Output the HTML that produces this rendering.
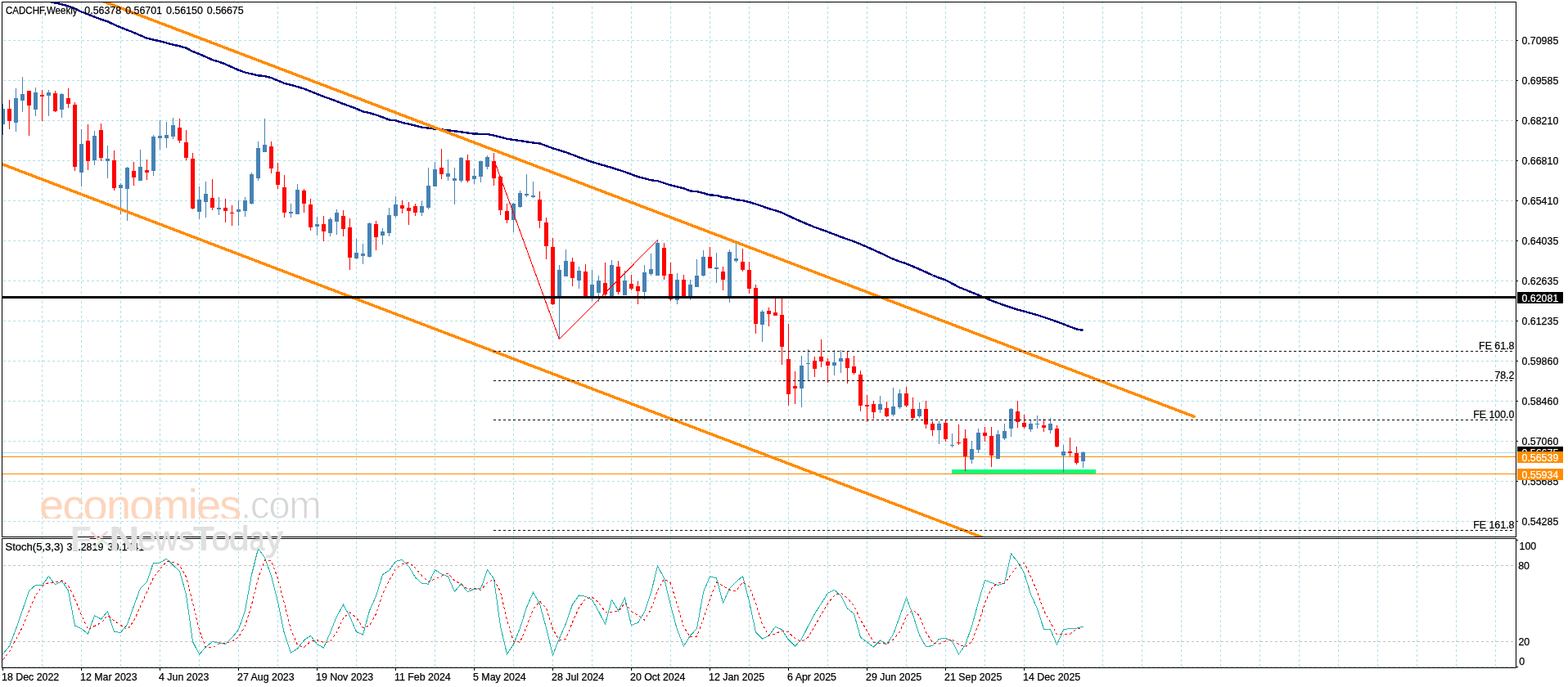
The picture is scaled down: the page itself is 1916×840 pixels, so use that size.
<!DOCTYPE html>
<html><head><meta charset="utf-8"><title>CADCHF Weekly</title>
<style>html,body{margin:0;padding:0;background:#fff;overflow:hidden}svg{display:block}text{white-space:pre}</style>
</head><body>
<svg width="1916" height="840" viewBox="0 0 1916 840" font-family="Liberation Sans, Arial, sans-serif" font-size="12">
<rect width="1916" height="840" fill="#fff"/>
<defs><clipPath id="cm"><rect x="3" y="3" width="1849" height="653"/></clipPath><clipPath id="cs"><rect x="3" y="659" width="1849" height="157"/></clipPath><filter id="soft" x="-5%" y="-5%" width="110%" height="110%"><feGaussianBlur stdDeviation="0.45"/></filter></defs>
<path d="M4 49.5H1852 M4 98.5H1852 M4 147.5H1852 M4 196.5H1852 M4 245.5H1852 M4 294.5H1852 M4 343.5H1852 M4 392.5H1852 M4 441.5H1852 M4 490.5H1852 M4 539.5H1852 M4 588.5H1852 M4 637.5H1852 M51.5 2V816 M99.5 2V816 M147.5 2V816 M195.5 2V816 M243.5 2V816 M291.5 2V816 M339.5 2V816 M387.5 2V816 M435.5 2V816 M483.5 2V816 M531.5 2V816 M579.5 2V816 M627.5 2V816 M675.5 2V816 M723.5 2V816 M771.5 2V816 M819.5 2V816 M867.5 2V816 M915.5 2V816 M963.5 2V816 M1011.5 2V816 M1059.5 2V816 M1107.5 2V816 M1155.5 2V816 M1203.5 2V816 M1251.5 2V816 M1299.5 2V816 M1347.5 2V816 M1395.5 2V816 M1443.5 2V816 M1491.5 2V816 M1539.5 2V816 M1587.5 2V816 M1635.5 2V816 M1683.5 2V816 M1731.5 2V816 M1779.5 2V816 M1827.5 2V816 M4 815.5H1852" stroke="#b0e0e6" stroke-width="1" stroke-dasharray="3 3" fill="none" shape-rendering="crispEdges"/>
<path d="M4 691.5H1852M4 784.5H1852" stroke="#c0c0c0" stroke-width="1" stroke-dasharray="3 3" fill="none" shape-rendering="crispEdges"/>
<g clip-path="url(#cm)">
<path d="M3 553.5H1852" stroke="#b0e0e6" fill="none" shape-rendering="crispEdges"/>
<path d="M3 558.5H1852M3 579.5H1852" stroke="#ff8c00" fill="none" shape-rendering="crispEdges"/>
<rect x="1163" y="574" width="176" height="5" fill="#00ff7f"/>
<path d="M3 127h1v38h-1z M1 133h5v19h-5z M19 108h1v53h-1z M17 120h5v30h-5z M27 94h1v43h-1z M25 115h5v8h-5z M43 107h1v35h-1z M41 113h5v21h-5z M59 110h1v32h-1z M57 113h5v4h-5z M75 114h1v30h-1z M73 115h5v19h-5z M99 158h1v70h-1z M97 176h5v35h-5z M115 160h1v42h-1z M113 166h5v30h-5z M131 178h1v40h-1z M129 194h5v3h-5z M147 224h1v38h-1z M145 226h5v4h-5z M155 204h1v66h-1z M153 205h5v26h-5z M171 183h1v38h-1z M169 204h5v17h-5z M187 165h1v50h-1z M185 167h5v42h-5z M195 147h1v36h-1z M193 166h5v3h-5z M203 149h1v32h-1z M201 165h5v4h-5z M211 144h1v26h-1z M209 153h5v14h-5z M243 228h1v40h-1z M241 244h5v15h-5z M251 222h1v44h-1z M249 237h5v10h-5z M267 241h1v22h-1z M265 254h5v2h-5z M291 245h1v31h-1z M289 256h5v3h-5z M299 241h1v24h-1z M297 245h5v13h-5z M307 211h1v39h-1z M305 213h5v36h-5z M315 173h1v48h-1z M313 181h5v37h-5z M323 145h1v41h-1z M321 177h5v9h-5z M355 249h1v17h-1z M353 259h5v2h-5z M363 225h1v37h-1z M361 232h5v30h-5z M387 265h1v23h-1z M385 274h5v3h-5z M403 266h1v23h-1z M401 268h5v17h-5z M411 256h1v31h-1z M409 260h5v11h-5z M435 292h1v25h-1z M433 309h5v7h-5z M443 298h1v25h-1z M441 310h5v3h-5z M451 272h1v43h-1z M449 273h5v41h-5z M467 279h1v20h-1z M465 283h5v5h-5z M475 254h1v35h-1z M473 263h5v22h-5z M483 240h1v26h-1z M481 250h5v14h-5z M515 246h1v18h-1z M513 252h5v8h-5z M523 205h1v51h-1z M521 227h5v27h-5z M531 198h1v30h-1z M529 207h5v21h-5z M547 195h1v26h-1z M545 212h5v4h-5z M555 205h1v45h-1z M553 218h5v3h-5z M563 192h1v31h-1z M561 193h5v28h-5z M579 206h1v19h-1z M577 215h5v4h-5z M587 197h1v26h-1z M585 197h5v19h-5z M595 190h1v17h-1z M593 192h5v12h-5z M627 248h1v36h-1z M625 249h5v20h-5z M635 233h1v21h-1z M633 236h5v17h-5z M643 213h1v28h-1z M641 237h5v2h-5z M651 222h1v20h-1z M649 239h5v2h-5z M683 324h1v91h-1z M681 330h5v32h-5z M691 305h1v33h-1z M689 319h5v19h-5z M707 326h1v27h-1z M705 331h5v12h-5z M723 330h1v38h-1z M721 348h5v16h-5z M731 337h1v32h-1z M729 343h5v15h-5z M747 318h1v45h-1z M745 324h5v38h-5z M763 331h1v30h-1z M761 343h5v18h-5z M787 324h1v42h-1z M785 333h5v24h-5z M795 310h1v27h-1z M793 329h5v6h-5z M803 293h1v44h-1z M801 297h5v40h-5z M827 334h1v38h-1z M825 342h5v25h-5z M843 342h1v25h-1z M841 348h5v14h-5z M851 317h1v34h-1z M849 337h5v14h-5z M859 306h1v32h-1z M857 314h5v23h-5z M875 309h1v37h-1z M873 327h5v2h-5z M891 305h1v65h-1z M889 308h5v54h-5z M899 298h1v23h-1z M897 316h5v3h-5z M931 379h1v39h-1z M929 381h5v16h-5z M979 435h1v63h-1z M977 447h5v28h-5z M987 427h1v38h-1z M985 444h5v1h-5z M1019 428h1v31h-1z M1017 443h5v4h-5z M1027 428h1v28h-1z M1025 438h5v4h-5z M1075 484h1v21h-1z M1073 494h5v7h-5z M1091 474h1v35h-1z M1089 497h5v10h-5z M1099 476h1v24h-1z M1097 481h5v17h-5z M1123 492h1v19h-1z M1121 500h5v9h-5z M1147 515h1v28h-1z M1145 518h5v8h-5z M1163 530h1v17h-1z M1161 544h5v1h-5z M1187 539h1v28h-1z M1185 549h5v13h-5z M1195 524h1v30h-1z M1193 529h5v21h-5z M1219 526h1v35h-1z M1217 531h5v30h-5z M1227 518h1v20h-1z M1225 527h5v9h-5z M1235 499h1v35h-1z M1233 500h5v24h-5z M1259 513h1v15h-1z M1257 518h5v7h-5z M1267 508h1v16h-1z M1265 518h5v1h-5z M1283 511h1v19h-1z M1281 518h5v8h-5z M1299 544h1v34h-1z M1297 552h5v5h-5z M1323 552h1v20h-1z M1321 553h5v11h-5z" fill="#4682b4" shape-rendering="crispEdges"/>
<path d="M11 122h1v36h-1z M9 133h5v15h-5z M35 111h1v55h-1z M33 111h5v18h-5z M51 110h1v38h-1z M49 116h5v2h-5z M67 111h1v26h-1z M65 114h5v22h-5z M83 108h1v24h-1z M81 120h5v7h-5z M91 125h1v84h-1z M89 128h5v76h-5z M107 152h1v56h-1z M105 172h5v25h-5z M123 151h1v46h-1z M121 159h5v34h-5z M139 184h1v49h-1z M137 196h5v34h-5z M163 198h1v29h-1z M161 209h5v8h-5z M179 195h1v25h-1z M177 208h5v3h-5z M219 145h1v30h-1z M217 156h5v16h-5z M227 159h1v37h-1z M225 174h5v19h-5z M235 187h1v69h-1z M233 194h5v61h-5z M259 219h1v38h-1z M257 242h5v12h-5z M275 243h1v29h-1z M273 254h5v4h-5z M283 251h1v25h-1z M281 260h5v1h-5z M331 173h1v39h-1z M329 179h5v27h-5z M339 199h1v32h-1z M337 210h5v16h-5z M347 214h1v52h-1z M345 229h5v31h-5z M371 231h1v29h-1z M369 233h5v16h-5z M379 243h1v39h-1z M377 250h5v28h-5z M395 264h1v31h-1z M393 274h5v9h-5z M419 257h1v32h-1z M417 264h5v16h-5z M427 267h1v63h-1z M425 278h5v37h-5z M459 270h1v36h-1z M457 274h5v16h-5z M491 245h1v16h-1z M489 251h5v4h-5z M499 247h1v28h-1z M497 254h5v4h-5z M507 249h1v15h-1z M505 252h5v8h-5z M539 182h1v37h-1z M537 205h5v8h-5z M571 189h1v34h-1z M569 196h5v25h-5z M603 187h1v40h-1z M601 197h5v21h-5z M611 216h1v47h-1z M609 216h5v41h-5z M619 249h1v24h-1z M617 258h5v11h-5z M659 234h1v45h-1z M657 244h5v26h-5z M667 266h1v51h-1z M665 272h5v29h-5z M675 291h1v82h-1z M673 302h5v70h-5z M699 315h1v35h-1z M697 320h5v20h-5z M715 323h1v39h-1z M713 332h5v30h-5z M739 321h1v41h-1z M737 346h5v14h-5z M755 319h1v41h-1z M753 326h5v31h-5z M771 336h1v19h-1z M769 347h5v6h-5z M779 344h1v28h-1z M777 350h5v6h-5z M811 297h1v45h-1z M809 303h5v34h-5z M819 321h1v47h-1z M817 335h5v31h-5z M835 336h1v27h-1z M833 342h5v20h-5z M867 302h1v26h-1z M865 314h5v14h-5z M883 326h1v29h-1z M881 332h5v10h-5z M907 304h1v28h-1z M905 320h5v10h-5z M915 320h1v39h-1z M913 330h5v23h-5z M923 348h1v60h-1z M921 352h5v44h-5z M939 376h1v23h-1z M937 380h5v4h-5z M947 365h1v21h-1z M945 382h5v4h-5z M955 365h1v81h-1z M953 385h5v39h-5z M963 396h1v100h-1z M961 439h5v43h-5z M971 454h1v40h-1z M969 472h5v3h-5z M995 436h1v25h-1z M993 441h5v10h-5z M1003 415h1v34h-1z M1001 436h5v6h-5z M1011 438h1v30h-1z M1009 442h5v5h-5z M1035 430h1v39h-1z M1033 438h5v12h-5z M1043 435h1v23h-1z M1041 448h5v8h-5z M1051 453h1v50h-1z M1049 458h5v38h-5z M1059 483h1v33h-1z M1057 495h5v2h-5z M1067 490h1v22h-1z M1065 494h5v10h-5z M1083 491h1v19h-1z M1081 499h5v10h-5z M1107 473h1v25h-1z M1105 481h5v15h-5z M1115 486h1v27h-1z M1113 500h5v11h-5z M1131 490h1v34h-1z M1129 500h5v19h-5z M1139 515h1v18h-1z M1137 518h5v8h-5z M1155 513h1v27h-1z M1153 517h5v20h-5z M1171 519h1v25h-1z M1169 541h5v1h-5z M1179 525h1v51h-1z M1177 536h5v22h-5z M1203 522h1v18h-1z M1201 529h5v4h-5z M1211 522h1v49h-1z M1209 533h5v24h-5z M1243 490h1v33h-1z M1241 503h5v13h-5z M1251 507h1v17h-1z M1249 517h5v5h-5z M1275 512h1v16h-1z M1273 520h5v3h-5z M1291 520h1v27h-1z M1289 524h5v22h-5z M1307 535h1v23h-1z M1305 552h5v2h-5z M1315 546h1v22h-1z M1313 554h5v12h-5z" fill="#ff0000" shape-rendering="crispEdges"/>
<polyline points="40.0,-2.8 67.5,3.6 75.5,5.3 83.5,7.5 91.5,10.5 99.5,14.4 107.5,17.6 115.5,20.7 123.5,23.7 131.5,26.3 139.5,30.1 147.5,33.6 155.5,36.6 163.5,39.8 171.5,43.3 179.5,46.7 187.5,48.6 195.5,50.4 203.5,52.5 211.5,54.6 219.5,56.4 227.5,58.7 235.5,63.0 243.5,66.1 251.5,69.5 259.5,73.2 267.5,75.5 275.5,78.5 283.5,82.1 291.5,85.7 299.5,88.5 307.5,90.5 315.5,92.3 323.5,93.0 331.5,95.2 339.5,98.5 347.5,101.8 355.5,103.8 363.5,106.1 371.5,108.5 379.5,111.7 387.5,114.9 395.5,118.1 403.5,120.9 411.5,123.9 419.5,127.0 427.5,129.9 435.5,132.9 443.5,136.4 451.5,138.1 459.5,140.5 467.5,143.3 475.5,146.5 483.5,147.4 491.5,149.8 499.5,151.7 507.5,153.7 515.5,155.7 523.5,156.6 531.5,157.6 539.5,158.5 547.5,159.3 555.5,160.3 563.5,161.3 571.5,162.5 579.5,163.6 587.5,163.8 595.5,164.1 603.5,165.5 611.5,167.6 619.5,169.8 627.5,170.9 635.5,172.0 643.5,173.3 651.5,174.6 659.5,175.4 667.5,178.3 675.5,181.3 683.5,183.7 691.5,186.2 699.5,189.2 707.5,192.3 715.5,195.2 723.5,198.0 731.5,200.4 739.5,202.7 747.5,205.0 755.5,207.6 763.5,210.1 771.5,213.1 779.5,216.1 787.5,218.2 795.5,220.3 803.5,221.2 811.5,223.9 819.5,226.4 827.5,228.4 835.5,230.3 843.5,233.5 851.5,234.1 859.5,236.2 867.5,238.4 875.5,238.9 883.5,241.1 891.5,241.9 899.5,244.3 907.5,245.1 915.5,247.1 923.5,249.5 931.5,252.2 939.5,255.0 947.5,257.4 955.5,259.9 963.5,263.9 971.5,267.6 979.5,271.1 987.5,274.5 995.5,277.8 1003.5,280.6 1011.5,283.5 1019.5,286.6 1027.5,289.7 1035.5,292.5 1043.5,295.2 1051.5,298.6 1059.5,302.0 1067.5,305.6 1075.5,309.2 1083.5,313.0 1091.5,316.8 1099.5,319.8 1107.5,322.4 1115.5,325.8 1123.5,329.2 1131.5,332.8 1139.5,336.5 1147.5,339.6 1155.5,342.5 1163.5,346.7 1171.5,351.0 1179.5,354.2 1187.5,357.5 1195.5,360.7 1203.5,364.1 1211.5,367.5 1219.5,370.5 1227.5,373.3 1235.5,376.0 1243.5,378.6 1251.5,380.6 1259.5,382.9 1267.5,385.2 1275.5,387.8 1283.5,390.5 1291.5,393.3 1299.5,396.3 1307.5,399.5 1315.5,402.4 1323.5,403.9" fill="none" stroke="#000080" stroke-width="2.4" shape-rendering="crispEdges"/>
<line x1="100" y1="-8.33" x2="1460.5" y2="509.88" stroke="#ff8c00" stroke-width="3.5" shape-rendering="crispEdges"/>
<line x1="0" y1="199.70" x2="1220" y2="664.52" stroke="#ff8c00" stroke-width="3.5" shape-rendering="crispEdges"/>
<polyline points="604.5,197.5 683.5,414.8 803.5,293.5" fill="none" stroke="#ff0000" stroke-width="1" shape-rendering="crispEdges"/>
<rect x="3" y="362" width="1849" height="3" fill="#000"/>
<path d="M603 429.5H1849 M603 465.5H1849 M603 513.5H1849 M603 648.5H1849" stroke="#000" stroke-dasharray="3 3" fill="none" shape-rendering="crispEdges"/>
</g>
<g clip-path="url(#cs)">
<polyline points="3.5,799.7 11.5,790.0 19.5,769.0 27.5,746.0 35.5,722.5 43.5,715.3 51.5,715.8 59.5,704.5 67.5,714.9 75.5,710.5 83.5,722.1 91.5,765.0 99.5,768.8 107.5,775.0 115.5,752.6 123.5,757.1 131.5,747.5 139.5,772.5 147.5,773.4 155.5,763.5 163.5,741.1 171.5,719.3 179.5,711.3 187.5,688.3 195.5,688.0 203.5,683.3 211.5,691.0 219.5,698.4 227.5,726.9 235.5,784.4 243.5,800.3 251.5,791.0 259.5,784.8 267.5,785.5 275.5,787.7 283.5,779.8 291.5,769.7 299.5,746.7 307.5,702.5 315.5,670.6 323.5,681.8 331.5,704.3 339.5,735.7 347.5,774.9 355.5,798.2 363.5,793.1 371.5,782.8 379.5,777.4 387.5,787.5 395.5,792.1 403.5,773.6 411.5,753.6 419.5,739.5 427.5,753.8 435.5,772.6 443.5,776.1 451.5,746.7 459.5,728.9 467.5,702.6 475.5,697.6 483.5,686.4 491.5,684.5 499.5,692.4 507.5,705.9 515.5,713.4 523.5,714.1 531.5,696.7 539.5,701.8 547.5,704.9 555.5,723.4 563.5,713.8 571.5,723.9 579.5,720.1 587.5,719.9 595.5,696.9 603.5,707.5 611.5,765.8 619.5,799.9 627.5,787.8 635.5,767.7 643.5,742.6 651.5,724.4 659.5,738.3 667.5,768.0 675.5,800.8 683.5,780.6 691.5,762.4 699.5,739.1 707.5,727.9 715.5,729.2 723.5,733.3 731.5,747.6 739.5,763.1 747.5,733.5 755.5,746.6 763.5,731.2 771.5,764.6 779.5,761.3 787.5,748.5 795.5,725.0 803.5,691.9 811.5,707.0 819.5,740.2 827.5,770.1 835.5,790.0 843.5,777.0 851.5,768.6 859.5,724.0 867.5,704.8 875.5,706.8 883.5,737.2 891.5,719.5 899.5,711.2 907.5,704.6 915.5,735.3 923.5,773.1 931.5,781.1 939.5,777.3 947.5,766.2 955.5,770.0 963.5,782.2 971.5,790.2 979.5,781.2 987.5,765.6 995.5,750.5 1003.5,737.9 1011.5,725.3 1019.5,721.4 1027.5,728.3 1035.5,743.9 1043.5,750.4 1051.5,779.2 1059.5,785.2 1067.5,791.2 1075.5,783.0 1083.5,787.7 1091.5,775.6 1099.5,753.7 1107.5,730.9 1115.5,751.7 1123.5,776.5 1131.5,791.0 1139.5,789.4 1147.5,781.2 1155.5,780.6 1163.5,783.9 1171.5,799.9 1179.5,788.4 1187.5,765.7 1195.5,736.4 1203.5,709.2 1211.5,712.6 1219.5,715.5 1227.5,712.7 1235.5,677.0 1243.5,686.9 1251.5,700.5 1259.5,726.6 1267.5,744.2 1275.5,769.2 1283.5,769.6 1291.5,788.1 1299.5,769.6 1307.5,768.6 1315.5,768.2 1323.5,766.2" fill="none" stroke="#20b2aa" stroke-width="1" shape-rendering="crispEdges"/>
<polyline points="3.5,806.7 11.5,796.7 19.5,781.7 27.5,766.7 35.5,746.7 43.5,728.3 51.5,716.7 59.5,712.5 67.5,711.7 75.5,710.0 83.5,715.9 91.5,732.5 99.5,752.0 107.5,769.6 115.5,765.5 123.5,761.6 131.5,752.4 139.5,759.0 147.5,764.4 155.5,769.8 163.5,759.4 171.5,741.3 179.5,723.9 187.5,706.3 195.5,695.8 203.5,686.5 211.5,687.4 219.5,690.9 227.5,705.4 235.5,736.5 243.5,770.5 251.5,791.9 259.5,792.0 267.5,787.1 275.5,786.0 283.5,784.3 291.5,779.1 299.5,765.4 307.5,739.6 315.5,706.6 323.5,685.0 331.5,685.6 339.5,707.3 347.5,738.3 355.5,769.6 363.5,788.7 371.5,791.4 379.5,784.4 387.5,782.6 395.5,785.7 403.5,784.4 411.5,773.1 419.5,755.6 427.5,749.0 435.5,755.3 443.5,767.5 451.5,765.1 459.5,750.5 467.5,726.1 475.5,709.7 483.5,695.5 491.5,689.5 499.5,687.8 507.5,694.3 515.5,703.9 523.5,711.2 531.5,708.1 539.5,704.2 547.5,701.1 555.5,710.0 563.5,714.0 571.5,720.4 579.5,719.3 587.5,721.3 595.5,712.3 603.5,708.1 611.5,723.4 619.5,757.7 627.5,784.5 635.5,785.1 643.5,766.0 651.5,744.9 659.5,735.1 667.5,743.6 675.5,769.1 683.5,783.2 691.5,781.3 699.5,760.7 707.5,743.1 715.5,732.1 723.5,730.1 731.5,736.7 739.5,748.0 747.5,748.1 755.5,747.8 763.5,737.1 771.5,747.5 779.5,752.4 787.5,758.1 795.5,744.9 803.5,721.8 811.5,707.9 819.5,713.0 827.5,739.1 835.5,766.8 843.5,779.0 851.5,778.5 859.5,756.5 867.5,732.5 875.5,711.9 883.5,716.3 891.5,721.1 899.5,722.6 907.5,711.8 915.5,717.1 923.5,737.7 931.5,763.2 939.5,777.2 947.5,774.9 955.5,771.2 963.5,772.8 971.5,780.8 979.5,784.5 987.5,779.0 995.5,765.7 1003.5,751.3 1011.5,737.9 1019.5,728.2 1027.5,725.0 1035.5,731.2 1043.5,740.9 1051.5,757.8 1059.5,771.6 1067.5,785.2 1075.5,786.5 1083.5,787.3 1091.5,782.1 1099.5,772.3 1107.5,753.4 1115.5,745.5 1123.5,753.0 1131.5,773.1 1139.5,785.6 1147.5,787.2 1155.5,783.7 1163.5,781.9 1171.5,788.1 1179.5,790.7 1187.5,784.7 1195.5,763.5 1203.5,737.1 1211.5,719.4 1219.5,712.4 1227.5,713.6 1235.5,701.7 1243.5,692.2 1251.5,688.2 1259.5,704.7 1267.5,723.8 1275.5,746.7 1283.5,761.0 1291.5,775.6 1299.5,775.8 1307.5,775.4 1315.5,768.8 1323.5,767.7" fill="none" stroke="#ff0000" stroke-width="1" stroke-dasharray="3 3" shape-rendering="crispEdges"/>
</g>
<path d="M2.5 2.5H1852.5V656.5H2.5Z M2.5 658.5H1852.5V816.5H2.5Z" fill="none" stroke="#000" stroke-width="1" shape-rendering="crispEdges"/>
<text y="673" fill="#000" stroke="#000" stroke-width="0.25" font-size="12.4"><tspan x="6.5" textLength="71" lengthAdjust="spacingAndGlyphs">Stoch(5,3,3)</tspan><tspan x="81.5">31.2819</tspan><tspan x="131.5">30.1441</tspan></text>
<clipPath id="wmc"><rect x="0" y="590" width="300" height="44"/></clipPath>
<g filter="url(#soft)">
<g clip-path="url(#wmc)"><text x="48.1" y="636.4" font-size="54" fill="#fdd5bd" textLength="247.1">economies</text></g>
<text x="293.9" y="633.5" font-size="47.6" fill="#d6d6d6" stroke="#fff" stroke-width="1" textLength="99">.com</text>
<text transform="translate(86.1,672.5) scale(1.0,1)" font-size="42" fill="#e4e4e4" font-weight="bold">F</text>
<text transform="translate(132.9,672.5) scale(1.246,1)" font-size="42" fill="#e0e0e0" font-weight="bold">N</text>
<text transform="translate(168.3,672.5) scale(0.963,1)" font-size="42" fill="#e0e0e0" stroke="#e0e0e0" stroke-width="0.7">e</text>
<text transform="translate(189.2,672.5) scale(0.95,1)" font-size="42" fill="#e0e0e0" stroke="#e0e0e0" stroke-width="0.7">w</text>
<text transform="translate(218.1,672.5) scale(0.93,1)" font-size="42" fill="#e0e0e0" stroke="#e0e0e0" stroke-width="0.7">s</text>
<text transform="translate(235.5,672.5) scale(1.03,1)" font-size="42" fill="#e0e0e0" font-weight="bold">T</text>
<text transform="translate(258.5,672.5) scale(0.985,1)" font-size="42" fill="#e0e0e0" stroke="#e0e0e0" stroke-width="0.7">o</text>
<text transform="translate(279.8,672.5) scale(1.07,1)" font-size="42" fill="#e0e0e0" stroke="#e0e0e0" stroke-width="0.7">d</text>
<text transform="translate(304.4,672.5) scale(0.81,1)" font-size="42" fill="#e0e0e0" stroke="#e0e0e0" stroke-width="0.7">a</text>
<text transform="translate(324.5,672.5) scale(1.02,1)" font-size="42" fill="#e0e0e0" stroke="#e0e0e0" stroke-width="0.7">y</text>
<polyline points="111.8,650.6 119.8,659.4 131.5,649.9" fill="none" stroke="#f4d0d0" stroke-width="2.6"/>
<polyline points="114.7,670.3 124.9,660.1 134.4,668.9" fill="none" stroke="#d8ecd8" stroke-width="2.6"/>
</g>
<path d="M1853 49.5h2 M1853 98.5h2 M1853 147.5h2 M1853 196.5h2 M1853 245.5h2 M1853 294.5h2 M1853 343.5h2 M1853 392.5h2 M1853 441.5h2 M1853 490.5h2 M1853 539.5h2 M1853 588.5h2 M1853 637.5h2 M1853 660.5h2M1853 815.5h2 M3.5 817v3 M99.5 817v3 M195.5 817v3 M291.5 817v3 M387.5 817v3 M483.5 817v3 M579.5 817v3 M675.5 817v3 M771.5 817v3 M867.5 817v3 M963.5 817v3 M1059.5 817v3 M1155.5 817v3 M1251.5 817v3" stroke="#000" shape-rendering="crispEdges"/>
<text x="1850.5" y="426.5" fill="#000" stroke="#000" stroke-width="0.25" font-size="12.4" text-anchor="end">FE 61.8</text>
<text x="1850.5" y="462.5" fill="#000" stroke="#000" stroke-width="0.25" font-size="12.4" text-anchor="end">78.2</text>
<text x="1850.5" y="510.5" fill="#000" stroke="#000" stroke-width="0.25" font-size="12.4" text-anchor="end">FE 100.0</text>
<text x="1850.5" y="645.5" fill="#000" stroke="#000" stroke-width="0.25" font-size="12.4" text-anchor="end">FE 161.8</text>
<text x="1859.5" y="54" fill="#000" stroke="#000" stroke-width="0.25" font-size="12.4">0.70985</text>
<text x="1859.5" y="103" fill="#000" stroke="#000" stroke-width="0.25" font-size="12.4">0.69585</text>
<text x="1859.5" y="152" fill="#000" stroke="#000" stroke-width="0.25" font-size="12.4">0.68210</text>
<text x="1859.5" y="201" fill="#000" stroke="#000" stroke-width="0.25" font-size="12.4">0.66810</text>
<text x="1859.5" y="250" fill="#000" stroke="#000" stroke-width="0.25" font-size="12.4">0.65410</text>
<text x="1859.5" y="299" fill="#000" stroke="#000" stroke-width="0.25" font-size="12.4">0.64035</text>
<text x="1859.5" y="348" fill="#000" stroke="#000" stroke-width="0.25" font-size="12.4">0.62635</text>
<text x="1859.5" y="397" fill="#000" stroke="#000" stroke-width="0.25" font-size="12.4">0.61235</text>
<text x="1859.5" y="446" fill="#000" stroke="#000" stroke-width="0.25" font-size="12.4">0.59860</text>
<text x="1859.5" y="495" fill="#000" stroke="#000" stroke-width="0.25" font-size="12.4">0.58460</text>
<text x="1859.5" y="544" fill="#000" stroke="#000" stroke-width="0.25" font-size="12.4">0.57060</text>
<text x="1859.5" y="593" fill="#000" stroke="#000" stroke-width="0.25" font-size="12.4">0.55685</text>
<text x="1859.5" y="642" fill="#000" stroke="#000" stroke-width="0.25" font-size="12.4">0.54285</text>
<rect x="1854" y="357" width="56" height="14" fill="#000"/><text x="1859.5" y="368.7" fill="#fff" stroke="#fff" stroke-width="0.25" font-size="12.4">0.62081</text>
<rect x="1854" y="546" width="56" height="14" fill="#000"/><text x="1859.5" y="557.7" fill="#fff" stroke="#fff" stroke-width="0.25" font-size="12.4">0.56675</text>
<rect x="1854" y="552" width="56" height="14" fill="#ff8c00"/><text x="1859.5" y="563.7" fill="#fff" stroke="#fff" stroke-width="0.25" font-size="12.4">0.56539</text>
<rect x="1854" y="573" width="56" height="14" fill="#ff8c00"/><text x="1859.5" y="584.7" fill="#fff" stroke="#fff" stroke-width="0.25" font-size="12.4">0.55934</text>
<text x="1856.5" y="672" fill="#000" stroke="#000" stroke-width="0.25" font-size="12.4">100</text>
<text x="1855.2" y="695.8" fill="#000" stroke="#000" stroke-width="0.25" font-size="12.4">80</text>
<text x="1855.4" y="788.8" fill="#000" stroke="#000" stroke-width="0.25" font-size="12.4">20</text>
<text x="1856.3" y="812.6" fill="#000" stroke="#000" stroke-width="0.25" font-size="12.4">0</text>
<text x="2" y="832" fill="#000" stroke="#000" stroke-width="0.25" font-size="12.4">18 Dec 2022</text>
<text x="98" y="832" fill="#000" stroke="#000" stroke-width="0.25" font-size="12.4">12 Mar 2023</text>
<text x="194" y="832" fill="#000" stroke="#000" stroke-width="0.25" font-size="12.4">4 Jun 2023</text>
<text x="290" y="832" fill="#000" stroke="#000" stroke-width="0.25" font-size="12.4">27 Aug 2023</text>
<text x="386" y="832" fill="#000" stroke="#000" stroke-width="0.25" font-size="12.4">19 Nov 2023</text>
<text x="482" y="832" fill="#000" stroke="#000" stroke-width="0.25" font-size="12.4">11 Feb 2024</text>
<text x="578" y="832" fill="#000" stroke="#000" stroke-width="0.25" font-size="12.4">5 May 2024</text>
<text x="674" y="832" fill="#000" stroke="#000" stroke-width="0.25" font-size="12.4">28 Jul 2024</text>
<text x="770" y="832" fill="#000" stroke="#000" stroke-width="0.25" font-size="12.4">20 Oct 2024</text>
<text x="866" y="832" fill="#000" stroke="#000" stroke-width="0.25" font-size="12.4">12 Jan 2025</text>
<text x="962" y="832" fill="#000" stroke="#000" stroke-width="0.25" font-size="12.4">6 Apr 2025</text>
<text x="1058" y="832" fill="#000" stroke="#000" stroke-width="0.25" font-size="12.4">29 Jun 2025</text>
<text x="1154" y="832" fill="#000" stroke="#000" stroke-width="0.25" font-size="12.4">21 Sep 2025</text>
<text x="1250" y="832" fill="#000" stroke="#000" stroke-width="0.25" font-size="12.4">14 Dec 2025</text>
<text y="17" fill="#000" stroke="#000" stroke-width="0.25" font-size="12.4"><tspan x="7" textLength="87.5" lengthAdjust="spacingAndGlyphs">CADCHF,Weekly</tspan><tspan x="103.3">0.56378</tspan><tspan x="153.2">0.56701</tspan><tspan x="203">0.56150</tspan><tspan x="252.8">0.56675</tspan></text>
</svg>
</body></html>
